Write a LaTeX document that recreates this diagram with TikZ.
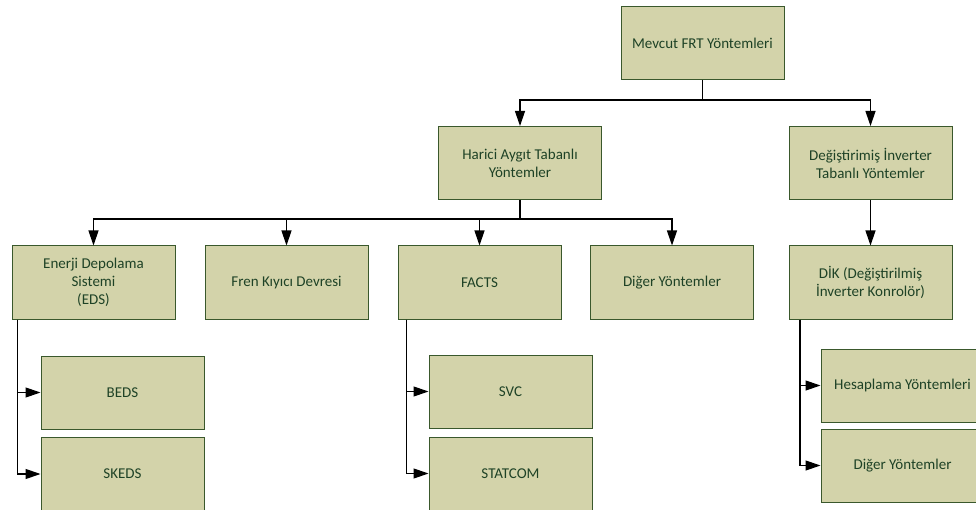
\documentclass[tikz,border=0pt]{standalone}
\usepackage{fontspec}
\setmainfont{Carlito}
\usetikzlibrary{arrows.meta}
\definecolor{boxfill}{RGB}{211,211,170}
\definecolor{boxline}{RGB}{58,88,44}
\definecolor{boxtext}{RGB}{30,66,38}
\tikzset{
  box/.style={draw=boxline, line width=1pt, fill=boxfill, text=boxtext,
    minimum width=163pt, minimum height=73pt, inner sep=2pt,
    align=center, font=\fontsize{15}{18}\selectfont},
  link/.style={draw=black, line width=1.2pt},
  arr/.style={link, -{Triangle[length=15pt,width=10pt]}},
}
\begin{document}
\begin{tikzpicture}[x=1pt,y=-1pt]
\useasboundingbox (0,0) rectangle (976,510);
\clip (0,0) rectangle (976,510);

% level 0
\node[box] (top) at (702.5,43.5) {Mevcut FRT Yöntemleri};

% level 1
\node[box] (har) at (520,163) {Harici Aygıt Tabanlı\\Yöntemler};
\node[box] (deg) at (870.5,163) {Değiştirimiş İnverter\\Tabanlı Yöntemler};

% level 2
\node[box] (eds)   at (93.5,282.5)  {Enerji Depolama\\Sistemi\\(EDS)};
\node[box] (fren)  at (286.5,282.5) {Fren Kıyıcı Devresi};
\node[box] (facts) at (479.5,282.5) {FACTS};
\node[box] (diger) at (672,282.5)   {Diğer Yöntemler};
\node[box] (dik)   at (870.5,282.5) {DİK (Değiştirilmiş\\İnverter Konrolör)};

% level 3
\node[box] (beds)    at (122.5,392.5) {BEDS};
\node[box] (skeds)   at (122.5,474)   {SKEDS};
\node[box] (svc)     at (510.5,391.5) {SVC};
\node[box] (statcom) at (510.5,473.5) {STATCOM};
\node[box] (hes)     at (902.5,385.5) {Hesaplama Yöntemleri};
\node[box] (dig2)    at (902.5,465.5) {Diğer Yöntemler};

% connectors from the root
\coordinate (j0) at (702.5,100);
\draw[link] (top.south) -- (j0);
\draw[arr] (j0) -| (har.north);
\draw[arr] (j0) -| (deg.north);

% connectors from the external-device branch
\coordinate (j1) at (520,219);
\draw[link] (har.south) -- (j1);
\draw[arr] (j1) -| (eds.north);
\draw[arr] (j1) -| (fren.north);
\draw[arr] (j1) -| (facts.north);
\draw[arr] (j1) -| (diger.north);

% modified inverter branch
\draw[arr] (deg.south) -- (dik.north);

% side connectors to the sub-items
\draw[arr] ([xshift=6pt]eds.south west) |- (beds.west);
\draw[arr] ([xshift=6pt]eds.south west) |- (skeds.west);
\draw[arr] ([xshift=9pt]facts.south west) |- (svc.west);
\draw[arr] ([xshift=9pt]facts.south west) |- (statcom.west);
\draw[arr] ([xshift=11.5pt]dik.south west) |- (hes.west);
\draw[arr] ([xshift=11.5pt]dik.south west) |- (dig2.west);
\end{tikzpicture}
\end{document}
